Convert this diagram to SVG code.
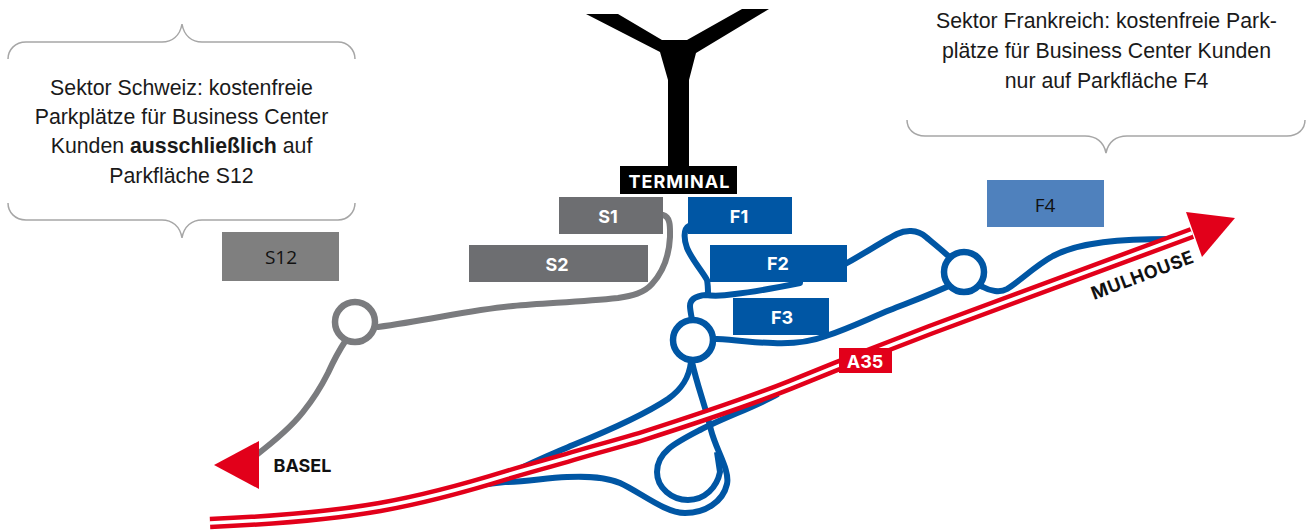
<svg xmlns="http://www.w3.org/2000/svg" width="1314" height="532" viewBox="0 0 1314 532">
<style>
.cap{font-family:"Liberation Sans",Arial,sans-serif;font-size:21.3px;fill:#1a1a1a;text-anchor:middle}
.br{fill:none;stroke:#a6a6a6;stroke-width:1.5}
.b{fill:none;stroke:#0056a4;stroke-width:6;stroke-linecap:butt;stroke-linejoin:round}
.g{fill:none;stroke:#7a7b7e;stroke-width:6;stroke-linecap:round}
.lab{font-family:Inter,"Liberation Sans",sans-serif;font-weight:700;font-size:18px;fill:#fff;text-anchor:middle}
.blk{font-family:Inter,"Liberation Sans",sans-serif;font-weight:700;font-size:18px;fill:#111;text-anchor:middle}
.pk{font-family:"Open Sans","Noto Sans",sans-serif;font-size:19px;fill:#111;text-anchor:middle}
</style>
<g id="connectors">
<path class="g" d="M663,215 C671,217 670,228 670,237 C669,258 663,272 652,284 C644,293 632,296 618,298 C580,302 545,303 513,306 C470,310 430,320 378,327"/>
<path class="g" d="M346,340 C338,352 333,362 328,373 C319,391 311,402 303,412 C292,426 276,440 255,456"/>
<path class="b" d="M695,224 L689,226 C683,229 684,240 687,248 C692,260 703,272 707,280 C708,285 708,290 708,294"/>
<path class="b" d="M800,280 L800,283 C775,288 755,292 735,294 C722,296 712,296 706,295 C694,296 690,300 690,306 C690,310 691,314 693,325"/>
<path class="b" d="M700,339 L717,339 C740,340 755,343 773,343 C795,344 810,342 826,336 C850,328 870,318 890,310 C910,302 930,295 960,281"/>
<path class="b" d="M840,267 L847,263 C865,253 885,240 897,234 C905,230 917,229 926,237 C934,244 942,250 955,262"/>
<path class="b" d="M972,282 L983,287 C990,291 1000,293 1007,289 C1020,281 1035,266 1053,256 C1080,242 1120,239 1172,239"/>
<path class="b" d="M692,350 L691,362 C689,378 682,389 668,399 C650,411 615,428 573,445 C550,455 530,463 505,476"/>
<path class="b" d="M692,350 L692,362 C697,385 705,405 711,430 C716,450 730,470 727,484 C723,502 705,513 685,513 C665,513 640,492 620,483 C606,477 590,476 567,477 C545,478 525,482 505,482 L470,486"/>
<path class="b" d="M778,394 C755,407 725,417 700,430 C675,443 657,452 657,472 C657,488 672,500 688,500 C705,500 717,487 720,472 L717,452"/>
<g id="a35-road">
<path d="M210,523 C280,520 340,514 380,507 C425,499 465,488 507,475 C530,468 550,463 573,456 C600,448 620,443 640,437 C690,421 740,405 790,385 L837,366 L930,330 L1192,233" fill="none" stroke="#e2001a" stroke-width="12.500"/>
<path d="M210,523 C280,520 340,514 380,507 C425,499 465,488 507,475 C530,468 550,463 573,456 C600,448 620,443 640,437 C690,421 740,405 790,385 L837,366 L930,330 L1192,233" fill="none" stroke="#fff" stroke-width="3.500"/>
</g>
</g>
<g id="terminal">
<path d="M586,14 L618,14 L662,40 L687,40 L742,9 L769,9 L696,53 L689,80 L689,166 L668,166 L668,80 L660,52 Z" fill="#000"/>
<rect x="620" y="166" width="117" height="28" fill="#000"/>
<text x="679.500" y="188" class="lab" style="letter-spacing:1px">TERMINAL</text>
</g>
<g id="s1"><rect x="559" y="197" width="104" height="37" fill="#6d6e71"/><text x="608" y="222.500" class="lab">S1</text></g>
<g id="s2"><rect x="469" y="245" width="179" height="37" fill="#6d6e71"/><text x="557" y="271" class="lab">S2</text></g>
<g id="f1"><rect x="688" y="197" width="104" height="37" fill="#0056a4"/><text x="739" y="222.500" class="lab">F1</text></g>
<g id="f2"><rect x="710" y="245" width="137" height="37" fill="#0056a4"/><text x="778" y="270" class="lab">F2</text></g>
<g id="f3"><rect x="733" y="298" width="96" height="37" fill="#0056a4"/><text x="782" y="324" class="lab">F3</text></g>
<g id="circle-basel"><circle cx="355" cy="322" r="20" fill="#fff" stroke="#7a7b7e" stroke-width="6.500"/></g>
<g id="circle-f3"><circle cx="693" cy="340" r="20" fill="#fff" stroke="#0056a4" stroke-width="6.500"/></g>
<g id="circle-f4"><circle cx="964" cy="272" r="20" fill="#fff" stroke="#0056a4" stroke-width="6.500"/></g>
<g id="a35"><rect x="839" y="348" width="53" height="25" fill="#e2001a"/><text x="865" y="368" class="lab">A35</text></g>
<g id="basel"><path d="M214,465 L259,441 L259,489 Z" fill="#e2001a"/><text x="302.500" y="472" class="blk">BASEL</text></g>
<g id="mulhouse"><path d="M1186,212 L1235,218 L1202,257 Z" fill="#e2001a"/><text transform="translate(1144.700,281) rotate(-20.500)" class="blk" style="letter-spacing:.6px">MULHOUSE</text></g>
<g id="s12"><rect x="222" y="232" width="117" height="49" fill="#7f7f7f"/><text x="281" y="263.500" class="pk">S12</text></g>
<g id="f4"><rect x="987" y="180" width="117" height="47" fill="#4f81bd"/><text x="1045" y="211.500" class="pk">F4</text></g>
<g id="sektor-schweiz">
<path class="br" d="M8,59 C8,50 15,42 26,42 L162,42 C172,42 180,36 182,24 C184,36 192,42 202,42 L338,42 C348,42 355,50 355,59"/>
<path class="br" d="M8,203 C8,212 15,220 26,220 L162,220 C172,220 180,226 182,238 C184,226 192,220 202,220 L338,220 C348,220 355,212 355,203"/>
<text x="181.500" y="95" class="cap">Sektor Schweiz: kostenfreie</text>
<text x="181.500" y="124" class="cap">Parkplätze für Business Center</text>
<text x="181.500" y="153" class="cap">Kunden <tspan font-weight="700">ausschließlich</tspan> auf</text>
<text x="181.500" y="183" class="cap">Parkfläche S12</text>
</g>
<g id="sektor-frankreich">
<path class="br" d="M907,120 C907,129 914,136 925,136 L1085,136 C1096,136 1104,142 1106,153 C1108,142 1116,136 1127,136 L1287,136 C1298,136 1305,129 1305,120"/>
<text x="1106.500" y="28" class="cap">Sektor Frankreich: kostenfreie Park-</text>
<text x="1106.500" y="58" class="cap">plätze für Business Center Kunden</text>
<text x="1106.500" y="88" class="cap">nur auf Parkfläche F4</text>
</g>
</svg>
